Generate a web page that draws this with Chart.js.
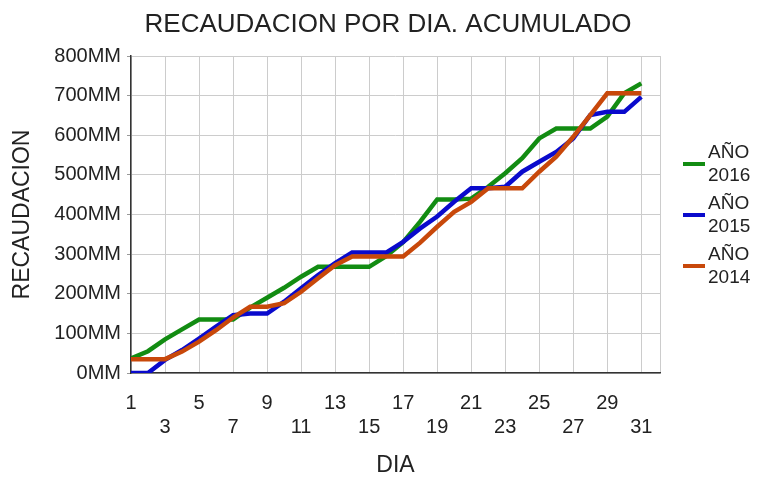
<!DOCTYPE html>
<html>
<head>
<meta charset="utf-8">
<script src="https://cdn.jsdelivr.net/npm/chart.js@4"></script>
<style>
  body { margin: 0; background: #fff; }
  #wrap { width: 758px; height: 479px; }
</style>
</head>
<body>
<div id="wrap"><canvas id="lineChart" width="758" height="479"></canvas></div>
<script>
// days of the month
const days = [1, 2, 3, 4, 5, 6, 7, 8, 9, 10, 11, 12, 13, 14, 15, 16,
              17, 18, 19, 20, 21, 22, 23, 24, 25, 26, 27, 28, 29, 30, 31];

// accumulated collection, in millions (MM)
const anio2016 = [37, 55, 85, 110, 135, 135, 135, 165, 190, 215, 243, 268, 268, 268, 268, 295,
                  330, 382, 438, 438, 440, 470, 504, 542, 592, 617, 617, 617, 647, 706, 731];
const anio2015 = [0, 0, 33, 58, 87, 117, 146, 150, 150, 180, 214, 247, 277, 304, 304, 304,
                  331, 365, 395, 432, 466, 466, 470, 508, 533, 558, 592, 651, 659, 659, 697];
const anio2014 = [35, 35, 35, 54, 79, 108, 140, 167, 167, 176, 205, 239, 272, 294, 294, 294,
                  294, 329, 369, 407, 432, 466, 466, 466, 508, 546, 596, 651, 706, 706, 706];

const seriesNames = ['AÑO 2016', 'AÑO 2015', 'AÑO 2014'];
const seriesColors = ['#128c12', '#0a0acc', '#c8480a'];

const xTicks = [1, 3, 5, 7, 9, 11, 13, 15, 17, 19, 21, 23, 25, 27, 29, 31];
const yTicks = [0, 100, 200, 300, 400, 500, 600, 700, 800];

const chartTitle = 'RECAUDACION POR DIA. ACUMULADO';
const FONT = "'Liberation Sans', Arial, sans-serif";

function toPoints(values) {
    return values.map((v, i) => ({ x: days[i], y: v }));
}

// title + legend drawn by hand (title is centred over the whole page,
// legend labels wrap on two lines)
const sideDecor = {
    id: 'sideDecor',
    afterDraw(chart) {
        const ctx = chart.ctx;
        ctx.save();
        ctx.fillStyle = '#222';
        ctx.textBaseline = 'middle';
        ctx.textAlign = 'center';
        ctx.font = '26px ' + FONT;
        ctx.fillText(chartTitle, 388, 25);

        ctx.textAlign = 'left';
        ctx.font = '19px ' + FONT;
        seriesNames.forEach((name, i) => {
            const yc = 164 + i * 51;
            ctx.strokeStyle = seriesColors[i];
            ctx.lineWidth = 4;
            ctx.beginPath();
            ctx.moveTo(683, yc);
            ctx.lineTo(705, yc);
            ctx.stroke();
            const parts = name.split(' ');
            ctx.fillText(parts[0], 708, yc - 11);
            ctx.fillText(parts[1], 708, yc + 12);
        });
        ctx.restore();
    }
};

const ds = [anio2016, anio2015, anio2014].map((vals, i) => ({
    label: seriesNames[i],
    data: toPoints(vals),
    borderColor: seriesColors[i],
    backgroundColor: seriesColors[i],
    borderWidth: 4.5,
    pointRadius: 0,
    tension: 0,
    order: 2 - i   // 2014 drawn on top
}));

const ctx = document.getElementById('lineChart').getContext('2d');
const myChart = new Chart(ctx, {
    type: 'line',
    data: { datasets: ds },
    options: {
        responsive: false,
        animation: false,
        layout: { padding: { left: 0, right: 98, top: 56, bottom: 0 } },
        plugins: {
            legend: { display: false },
            tooltip: { enabled: false },
            title: { display: false }
        },
        scales: {
            x: {
                type: 'linear',
                min: 1,
                max: 32.1,
                afterBuildTicks: (s) => {
                    s.ticks = xTicks.map(v => ({ value: v })).concat([{ value: 32.1 }]);
                },
                afterFit: (s) => { s.height = 106; },
                grid: { color: '#cccccc', lineWidth: 1, drawTicks: false },
                border: { display: true, color: '#333', width: 1.5 },
                ticks: {
                    autoSkip: false,
                    maxRotation: 0,
                    padding: 18,
                    color: '#222',
                    font: { family: FONT, size: 20 },
                    callback: (v, i) => {
                        if (i >= xTicks.length) return '';
                        return i % 2 === 0 ? [String(v), ''] : ['', String(v)];
                    }
                },
                title: {
                    display: true,
                    text: 'DIA',
                    color: '#222',
                    font: { family: FONT, size: 23 },
                    padding: { top: 0, bottom: 0 }
                }
            },
            y: {
                min: 0,
                max: 800,
                afterBuildTicks: (s) => { s.ticks = yTicks.map(v => ({ value: v })); },
                afterFit: (s) => { s.width = 131; },
                grid: { color: '#cccccc', lineWidth: 1, tickLength: 4, tickColor: '#999' },
                border: { display: true, color: '#333', width: 1.5 },
                ticks: {
                    padding: 6,
                    color: '#222',
                    font: { family: FONT, size: 20 },
                    callback: (v) => v + 'MM'
                },
                title: {
                    display: true,
                    text: 'RECAUDACION',
                    color: '#222',
                    font: { family: FONT, size: 23 },
                    padding: { top: 9, bottom: 0 }
                }
            }
        }
    },
    plugins: [sideDecor]
});
</script>
</body>
</html>
